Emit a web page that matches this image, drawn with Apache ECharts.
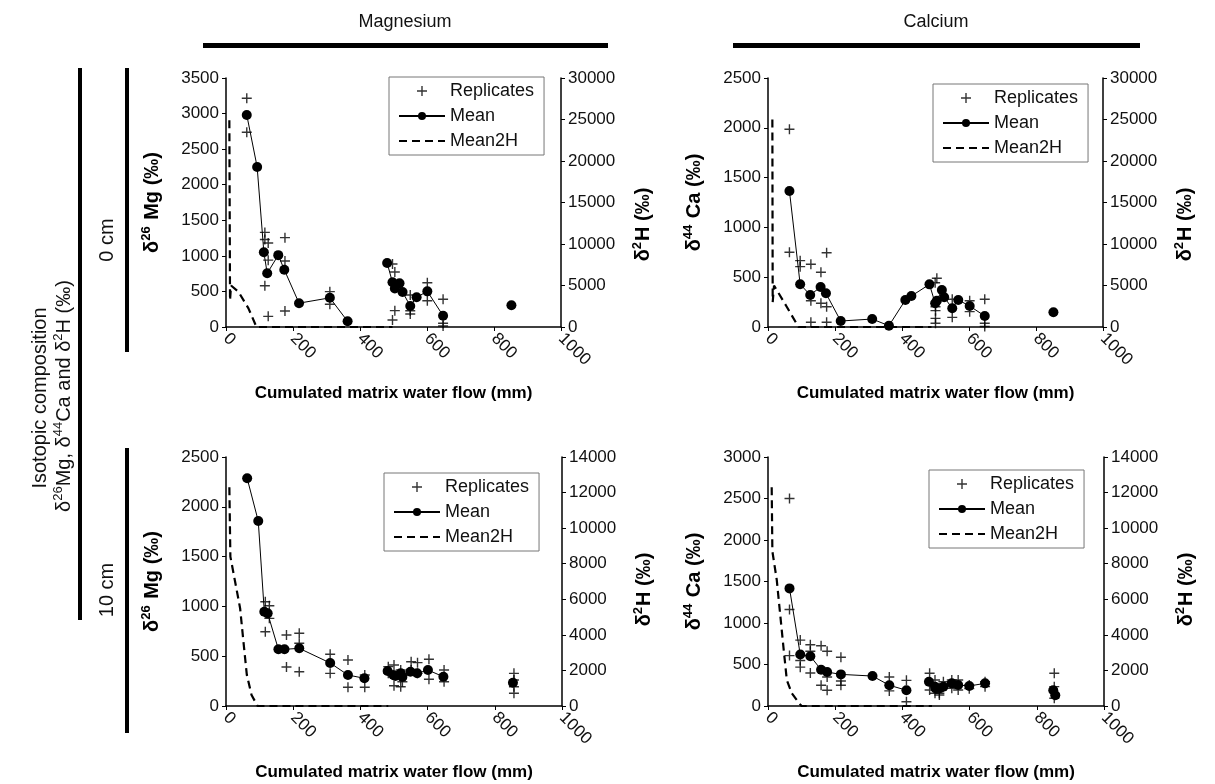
<!DOCTYPE html>
<html>
<head>
<meta charset="utf-8">
<script src="https://cdn.jsdelivr.net/npm/echarts@6/dist/echarts.min.js"></script>
<style>
  html, body { margin: 0; padding: 0; background: #fff; }
  #chart { width: 1215px; height: 784px; }
</style>
</head>
<body>
<div id="chart"></div>
<script>
// x ticks (cumulated matrix water flow, mm)
const xTicks = [0, 200, 400, 600, 800, 1000];

// Magnesium, 0 cm  (null = gap in the mean line)
const mg0MeanX = [62, 93, 113, 123, 156, 174, 218, 310, 363, 420, 481, 497, 504, 518, 527, 550, 569, 601, 648, 750, 852];
const mg0MeanY = [2980, 2250, 1050, 755, 1010, 805, 335, 410, 80, null, 900, 628, 540, 614, 492, 295, 418, 501, 159, null, 305];
const mg0RepX = [62, 62, 116, 116, 116, 126, 126, 126, 176, 176, 176, 310, 310, 497, 504, 504, 497, 550, 550, 550, 601, 601, 648, 648, 648];
const mg0RepY = [3216, 2738, 1330, 1230, 580, 1180, 940, 150, 1256, 928, 225, 497, 319, 886, 773, 230, 98, 450, 229, 183, 623, 370, 390, 52, 14];
const mg0H2X = [10, 12, 15, 37, 67, 91, 150, 250, 350, 450, 497];
const mg0H2Y = [24900, 3200, 5000, 4250, 2250, 0, 0, 0, 0, 0, 0];

// Calcium, 0 cm
const ca0MeanX = [64, 96, 126, 157, 173, 217, 311, 361, 410, 428, 482, 499, 504, 519, 526, 550, 568, 602, 647, 750, 852];
const ca0MeanY = [1365, 429, 321, 402, 338, 60, 80, 13, 271, 311, 428, 238, 264, 371, 298, 188, 271, 211, 110, null, 148];
const ca0RepX = [64, 64, 96, 96, 128, 128, 128, 158, 158, 175, 175, 175, 499, 504, 500, 500, 500, 500, 550, 550, 602, 602, 647, 647, 647];
const ca0RepY = [1985, 750, 666, 606, 630, 264, 47, 549, 238, 746, 204, 47, 445, 489, 204, 164, 87, 37, 278, 97, 264, 154, 278, 37, 5];
const ca0H2X = [13, 14, 18, 55, 91, 150, 250, 350, 450, 488];
const ca0H2Y = [25000, 3000, 5000, 2500, 0, 0, 0, 0, 0, 0];

// Magnesium, 10 cm
const mg10MeanX = [63, 96, 114, 124, 156, 174, 218, 310, 363, 412, 450, 481, 498, 504, 520, 525, 549, 569, 601, 647, 750, 854];
const mg10MeanY = [2286, 1857, 947, 930, 569, 569, 579, 432, 311, 278, null, 352, 311, 301, 328, 291, 344, 328, 361, 294, null, 234];
const mg10RepX = [117, 117, 129, 129, 180, 180, 218, 218, 218, 310, 310, 363, 363, 413, 413, 483, 483, 500, 500, 520, 520, 525, 551, 551, 570, 570, 604, 604, 649, 649, 857, 857, 857, 857];
const mg10RepY = [1047, 746, 1007, 880, 713, 392, 730, 630, 344, 519, 328, 462, 188, 311, 188, 395, 328, 412, 204, 194, 361, 244, 445, 361, 435, 328, 469, 268, 361, 244, 328, 261, 194, 128];
const mg10H2X = [10, 13, 27, 42, 52, 62, 76, 94, 200, 300, 400, 483];
const mg10H2Y = [12300, 8400, 7000, 5500, 3600, 1750, 620, 0, 0, 0, 0, 0];

// Calcium, 10 cm
const ca10MeanX = [64, 96, 126, 158, 176, 217, 311, 361, 412, 450, 479, 497, 499, 512, 522, 547, 566, 599, 646, 750, 849, 855];
const ca10MeanY = [1417, 620, 600, 437, 409, 381, 361, 250, 190, null, 293, 233, 211, 213, 233, 273, 253, 241, 273, null, 190, 130];
const ca10RepX = [64, 64, 64, 96, 96, 96, 126, 126, 126, 158, 158, 176, 176, 176, 217, 217, 217, 361, 361, 412, 412, 481, 481, 497, 497, 510, 510, 522, 547, 547, 566, 566, 599, 599, 646, 646, 852, 852, 852];
const ca10RepY = [2500, 1163, 607, 794, 548, 468, 738, 659, 397, 726, 250, 659, 349, 190, 587, 302, 250, 349, 182, 309, 52, 394, 193, 313, 153, 133, 153, 293, 313, 213, 313, 193, 253, 209, 293, 233, 394, 233, 93];
const ca10H2X = [11, 13, 26, 36, 46, 56, 71, 93, 100, 200, 300, 400, 488];
const ca10H2Y = [12300, 8700, 7100, 5200, 3300, 1460, 710, 150, 0, 0, 0, 0, 0];

// left / right axis ranges per panel
const leftMax = [3500, 2500, 2500, 3000];
const rightMax = [30000, 30000, 14000, 14000];
const rightStep = [5000, 5000, 2000, 2000];

const FONT = '"Liberation Sans", Arial, sans-serif';
// "+" marker, arms about 1.4px thick at size 10
const CROSS = 'path://M4.3,0h1.4v4.3h4.3v1.4h-4.3v4.3h-1.4v-4.3h-4.3v-1.4h4.3z';

const pairs = (xs, ys) => xs.map((x, i) => [x, ys[i] == null ? '-' : ys[i]]);

const panels = [
  { grid: { left: 226, top: 78, width: 335, height: 249 }, el: 'Mg', iso: '26', legend: [389, 77], h2Shift: 44,
    mean: pairs(mg0MeanX, mg0MeanY), rep: pairs(mg0RepX, mg0RepY), h2: pairs(mg0H2X, mg0H2Y) },
  { grid: { left: 768, top: 78, width: 335, height: 249 }, el: 'Ca', iso: '44', legend: [933, 84], h2Shift: 44,
    mean: pairs(ca0MeanX, ca0MeanY), rep: pairs(ca0RepX, ca0RepY), h2: pairs(ca0H2X, ca0H2Y) },
  { grid: { left: 226, top: 457, width: 336, height: 249 }, el: 'Mg', iso: '26', legend: [384, 473], h2Shift: 16,
    mean: pairs(mg10MeanX, mg10MeanY), rep: pairs(mg10RepX, mg10RepY), h2: pairs(mg10H2X, mg10H2Y) },
  { grid: { left: 768, top: 457, width: 336, height: 249 }, el: 'Ca', iso: '44', legend: [929, 470], h2Shift: 16,
    mean: pairs(ca10MeanX, ca10MeanY), rep: pairs(ca10RepX, ca10RepY), h2: pairs(ca10H2X, ca10H2Y) },
];

const axisLine = { show: true, lineStyle: { color: '#000', width: 1.5 } };
const axisTick = { show: true, inside: false, length: 4, lineStyle: { color: '#000', width: 1 } };
const tickFont = { fontFamily: FONT, fontSize: 17, color: '#111' };
const nameRich = {
  d: { fontFamily: FONT, fontSize: 20, fontWeight: 'bold', color: '#000' },
  s: { fontFamily: FONT, fontSize: 13, fontWeight: 'bold', color: '#000', padding: [0, 1, 11, 0] },
};

const grids = [], xAxes = [], yAxes = [], series = [], legends = [];

panels.forEach((p, i) => {
  grids.push(p.grid);
  xAxes.push({
    gridIndex: i, type: 'value', min: 0, max: 1000, interval: 200,
    name: 'Cumulated matrix water flow (mm)', nameLocation: 'middle', nameGap: 58,
    nameTextStyle: { fontFamily: FONT, fontSize: 17, fontWeight: 'bold', color: '#000' },
    axisLine, axisTick, splitLine: { show: false },
    axisLabel: { ...tickFont, rotate: -45, margin: 9, formatter: v => String(v) },
  });
  yAxes.push({
    gridIndex: i, type: 'value', position: 'left', min: 0, max: leftMax[i], interval: 500,
    name: `{d|δ}{s|${p.iso}}{d| ${p.el} (‰)}`, nameLocation: 'middle', nameGap: 62, nameRotate: 90,
    nameTextStyle: { rich: nameRich },
    axisLine, axisTick, splitLine: { show: false },
    axisLabel: { ...tickFont, margin: 7, formatter: v => String(v) },
  });
  yAxes.push({
    gridIndex: i, type: 'value', position: 'right', min: 0, max: rightMax[i], interval: rightStep[i],
    name: '{d|δ}{s|2}{d|H (‰)}', nameLocation: 'middle', nameGap: 70, nameRotate: 90,
    nameTextStyle: { rich: nameRich, padding: [0, p.h2Shift, 0, 0] },
    axisLine, axisTick, splitLine: { show: false },
    axisLabel: { ...tickFont, margin: 7, formatter: v => String(v) },
  });

  series.push({
    name: 'Replicates', type: 'scatter', xAxisIndex: i, yAxisIndex: 2 * i,
    symbol: CROSS, symbolSize: 10, itemStyle: { color: '#000' }, data: p.rep, z: 2,
  });
  series.push({
    name: 'Mean', type: 'line', xAxisIndex: i, yAxisIndex: 2 * i,
    symbol: 'circle', symbolSize: 10, showSymbol: true, connectNulls: false,
    lineStyle: { color: '#000', width: 1 }, itemStyle: { color: '#000' }, data: p.mean, z: 3,
  });
  series.push({
    name: 'Mean2H', type: 'line', xAxisIndex: i, yAxisIndex: 2 * i + 1,
    symbol: 'none', itemStyle: { color: '#000', opacity: 0 },
    lineStyle: { color: '#000', width: 2.2, type: [8, 5], opacity: 1 }, data: p.h2, z: 2,
  });

  legends.push({
    left: p.legend[0], top: p.legend[1], orient: 'vertical',
    data: ['Replicates', 'Mean', { name: 'Mean2H', itemStyle: { opacity: 0 } }],
    backgroundColor: '#fff', borderColor: '#777', borderWidth: 1,
    padding: [5, 10, 5, 9], itemWidth: 46, itemHeight: 10, itemGap: 7,
    selectedMode: false,
    textStyle: { fontFamily: FONT, fontSize: 18, color: '#111' },
  });
});

// frame decorations: column titles, bars and the row labels on the left
const supRich = {
  n: { fontFamily: FONT, fontSize: 20, color: '#111' },
  s: { fontFamily: FONT, fontSize: 13, color: '#111', padding: [0, 0, 11, 0] },
};
const vtext = (x, y, text, rich) => ({
  type: 'text', x, y, rotation: Math.PI / 2,
  style: { text, rich, fontFamily: FONT, fontSize: 20, fill: '#111',
    textAlign: 'center', textVerticalAlign: 'middle', align: 'center', verticalAlign: 'middle' },
});
const bar = (x, y, w, h) => ({ type: 'rect', shape: { x, y, width: w, height: h }, style: { fill: '#000' } });

const graphic = [
  { type: 'text', x: 405, y: 22, style: { text: 'Magnesium', fontFamily: FONT, fontSize: 18, fill: '#111',
    textAlign: 'center', textVerticalAlign: 'middle', align: 'center', verticalAlign: 'middle' } },
  { type: 'text', x: 936, y: 22, style: { text: 'Calcium', fontFamily: FONT, fontSize: 18, fill: '#111',
    textAlign: 'center', textVerticalAlign: 'middle', align: 'center', verticalAlign: 'middle' } },
  bar(203, 43, 405, 5),
  bar(733, 43, 407, 5),
  bar(78, 68, 4, 552),
  bar(125, 68, 4, 284),
  bar(125, 448, 4, 285),
  vtext(40, 398, '{n|Isotopic composition}', supRich),
  vtext(64, 396, '{n|δ}{s|26}{n|Mg, δ}{s|44}{n|Ca and δ}{s|2}{n|H (‰)}', supRich),
  vtext(107, 240, '{n|0 cm}', supRich),
  vtext(107, 590, '{n|10 cm}', supRich),
];

const myChart = echarts.init(document.getElementById('chart'));
myChart.setOption({
  animation: false,
  backgroundColor: '#fff',
  grid: grids,
  xAxis: xAxes,
  yAxis: yAxes,
  legend: legends,
  series,
  graphic,
});
</script>
</body>
</html>
